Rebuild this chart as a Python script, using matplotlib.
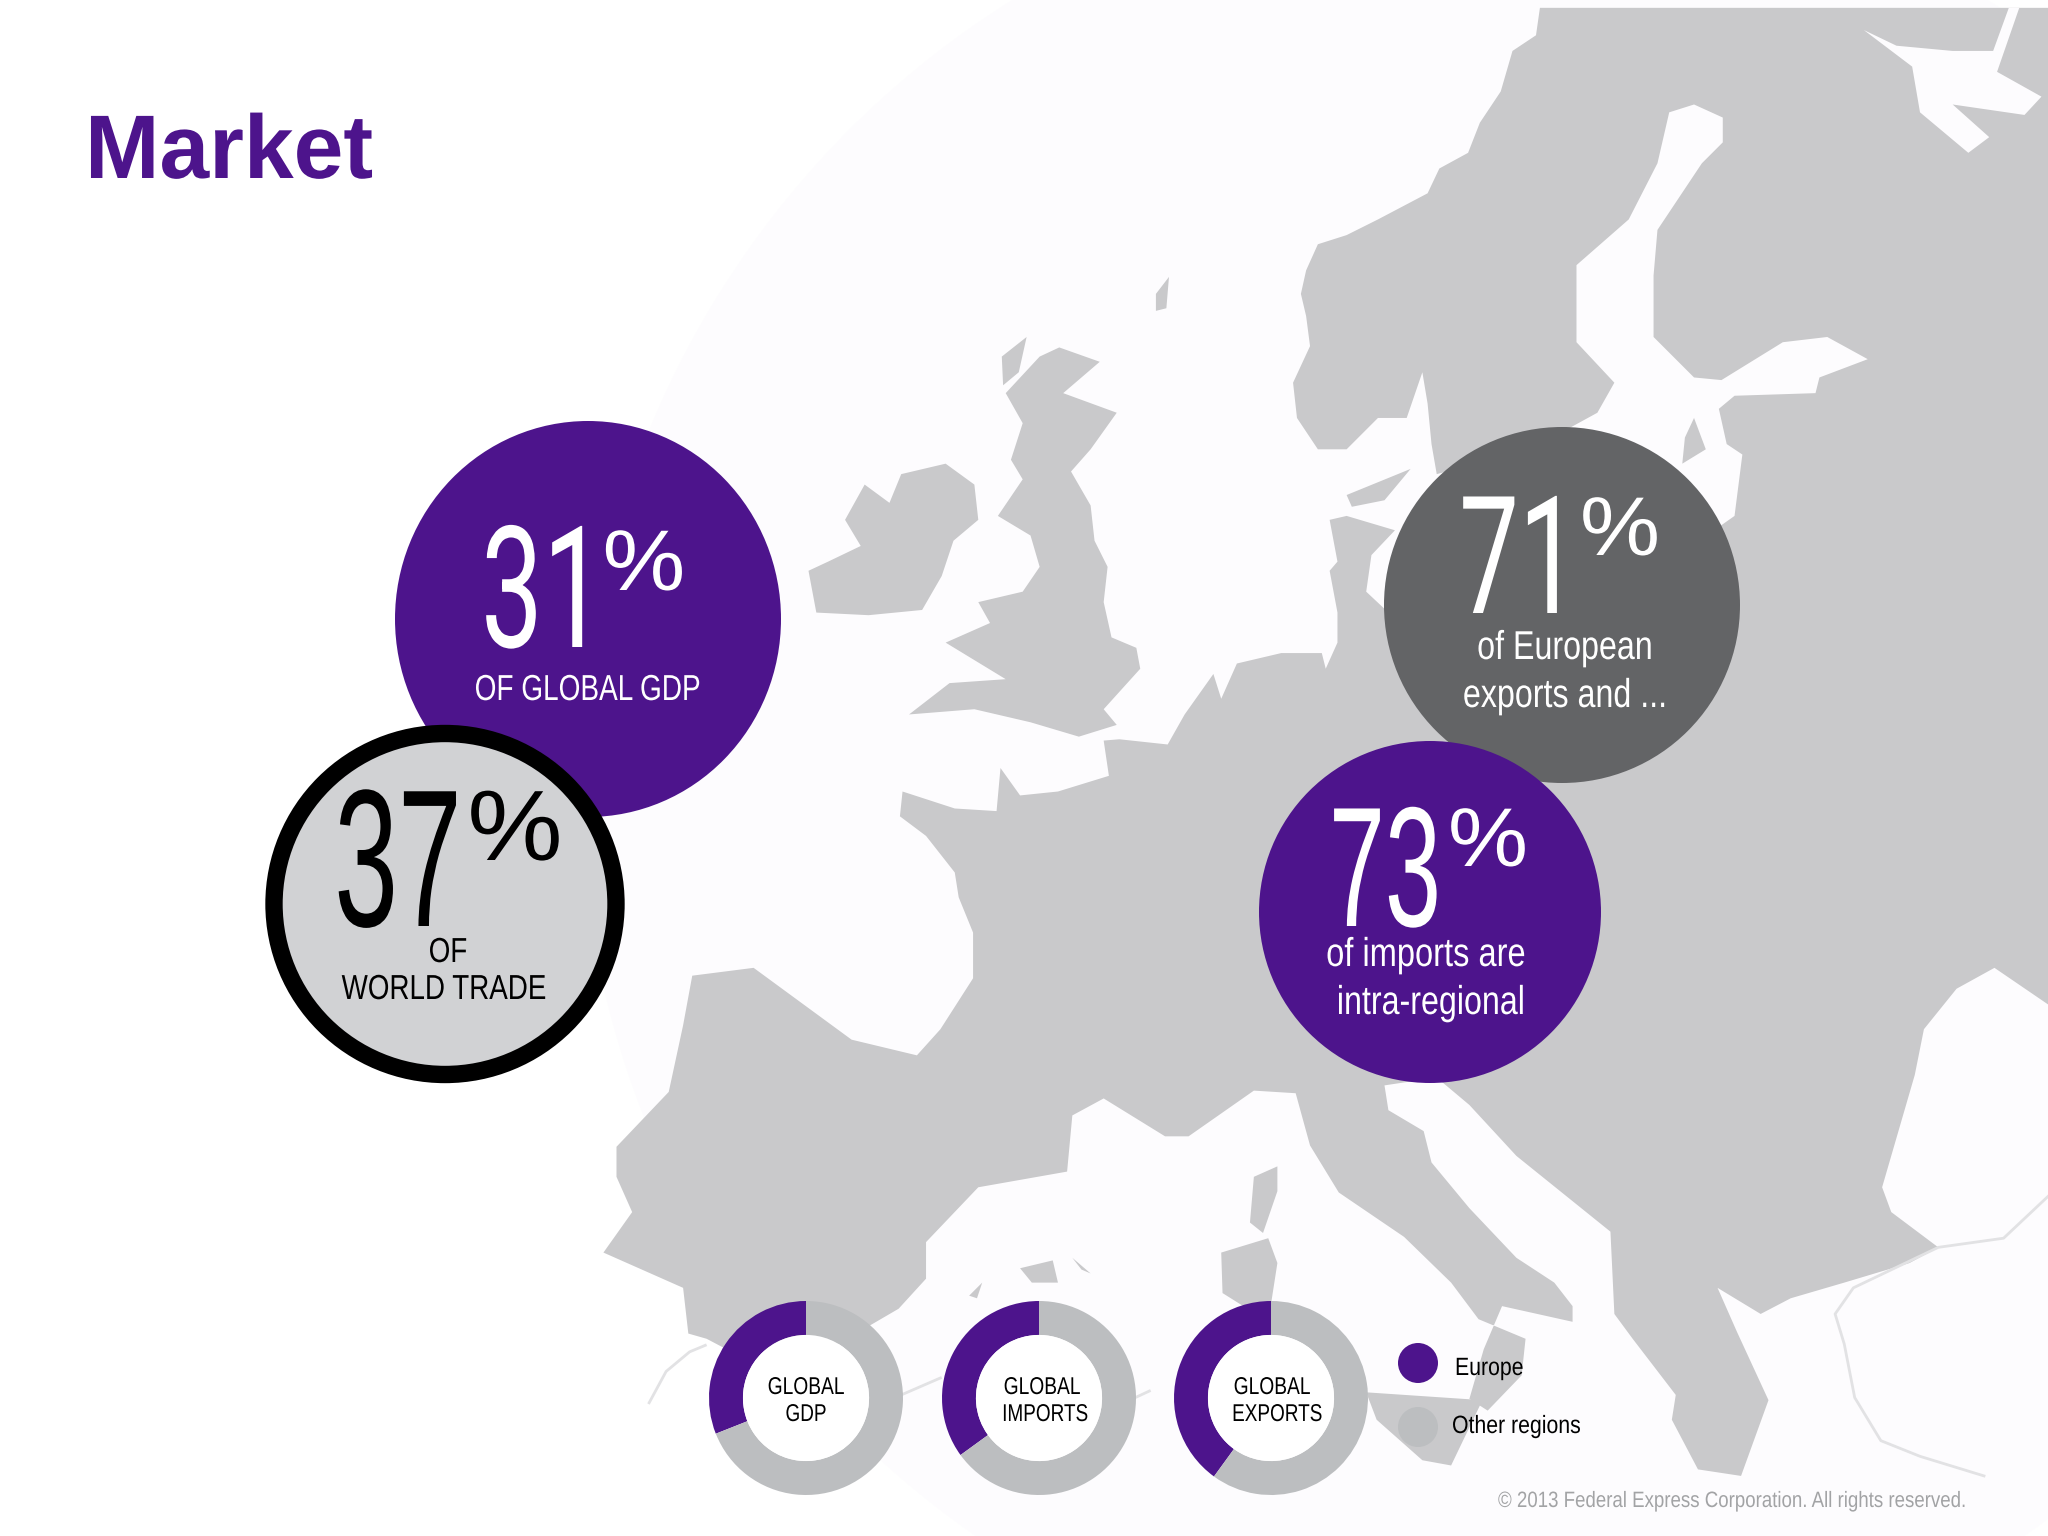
import numpy as np
import matplotlib
matplotlib.use('Agg')
import matplotlib.pyplot as plt
from matplotlib.patches import Ellipse, Polygon, Circle
from matplotlib.patheffects import AbstractPathEffect
from matplotlib.transforms import Affine2D, Bbox

W, H = 2048, 1536
S = 2048 / 1568  # map outlines were traced on a 1568 wide copy

PURPLE = '#4d148c'
GREY = '#636466'
LIGHT = '#d1d2d4'
MAP = '#c9c9cb'
DONUT_GREY = '#bcbec0'
SEA = '#fdfcfe'

plt.rcParams['font.family'] = ['Liberation Sans', 'DejaVu Sans']

# Europe share of the global totals
donut_labels = [('GLOBAL', 'GDP'), ('GLOBAL', 'IMPORTS'), ('GLOBAL', 'EXPORTS')]
europe_share = [31, 35, 40]
other_share = [69, 65, 60]

mainland = [(1179,6),(1176,27),(1158,39),(1149,70),(1133,94),(1124,117),(1102,129),(1093,148),(1055,168),
    (1031,180),(1009,187),(1000,207),(996,225),(1000,242),(1003,265),(990,293),(993,320),(1009,344),(1031,344),(1055,320),
    (1077,320),(1089,285),(1093,309),(1096,340),(1100,363),(1170,345),(1223,316),(1236,293),(1207,262),(1207,203),
    (1247,168),(1269,125),(1278,86),(1297,80),(1319,90),(1319,109),(1303,125),(1269,176),(1266,211),(1266,258),
    (1297,289),(1318,291),(1365,262),(1399,258),(1430,275),(1393,289),(1390,301),(1328,303),(1316,313),(1322,340),
    (1334,348),(1328,395),(1250,450),(1100,480),(1062,468),(1046,453),(1050,425),(1068,406),(1031,395),(1018,398),
    (1024,430),(1018,437),(1024,469),(1024,492),(1015,512),(1012,500),(981,500),(947,508),(935,535),(929,516),
    (907,547),(894,570),(857,566),(845,567),(849,594),(810,606),(781,609),(766,588),(763,621),(731,619),(691,606),
    (689,625),(709,640),(731,668),(734,687),(745,714),(745,749),(720,788),(702,808),(652,796),(577,741),(530,747),
    (523,785),(512,836),(472,878),(472,901),(484,928),(462,959),(523,986),(527,1021),(541,1025),(560,1035),
    (640,1030),(688,1002),(709,979),(709,951),(749,909),(817,897),(821,854),(845,841),(892,870),(910,870),(960,835),
    (992,837),(1003,877),(1025,913),(1075,947),(1111,982),(1132,1010),(1168,1025),(1165,1053),(1139,1080),(1125,1071),
    (1136,1033),(1150,1000),(1204,1012),(1204,1000),(1190,982),(1161,963),(1125,925),(1096,890),(1090,866),(1063,850),
    (1060,831),(1100,825),(1125,846),(1161,885),(1233,943),(1236,1006),(1250,1025),(1283,1068),(1280,1087),(1300,1125),
    (1333,1130),(1354,1072),(1330,1020),(1315,986),(1348,1006),(1371,994),(1412,982),(1462,967),(1484,955),(1448,928),
    (1441,909),(1466,823),(1473,788),(1498,757),(1527,741),(1568,769),(1568,6)]
white_sea = [(1427,23),(1452,35),(1495,39),(1526,39),(1538,6),(1546,6),(1529,55),(1563,74),(1550,88),(1495,80),
    (1523,105),(1507,117),(1470,86),(1464,51)]
ireland = [(619,437),(625,469),(665,471),(706,467),(721,441),(730,414),(749,398),(746,371),(724,355),(690,363),
    (681,385),(662,371),(647,398),(659,418),(634,430)]
britain = [(811,266),(842,277),(814,301),(855,316),(835,344),(820,361),(835,387),(838,414),(848,434),(845,461),
    (851,488),(870,496),(873,512),(845,543),(855,555),(826,564),(789,553),(746,543),(696,547),(727,523),(770,520),
    (724,492),(758,477),(749,461),(783,453),(796,434),(789,410),(764,395),(783,367),(774,352),(783,324),(770,301),(796,273)]
islands = [
    [(1046,1066),(1135,1072),(1111,1122),(1089,1118),(1054,1087)],  # Sicily
    [(935,959),(971,948),(978,967),(971,1012),(936,990)],  # Sardinia
    [(960,901),(978,893),(978,912),(967,944),(957,936)],  # Corsica
    [(781,971),(806,965),(810,982),(790,982)],
    [(821,963),(835,975),(828,972)],
    [(742,992),(752,982),(748,994)],
    [(767,273),(786,258),(780,285),(768,295)],
    [(895,212),(893,236),(885,238),(885,225)],
    [(1297,320),(1306,344),(1288,355),(1290,335)],
    [(1031,379),(1080,359),(1060,383),(1035,388)],
]
coast_lines = [
    [(497,1074),(510,1050),(528,1035),(540,1030)],
    [(690,1068),(720,1055)],
    [(838,1060),(865,1072),(880,1065)],
    [(1568,916),(1534,948),(1484,955),(1419,986),(1405,1006),(1412,1029),(1420,1070),(1440,1103),(1470,1115),(1519,1130)],
]

# bubbles: centre x, centre y, half width, half height (reference pixels)
bubbles = [
    (588, 619, 193, 198, PURPLE),
    (1562, 605, 178, 178, GREY),
    (1430, 912, 171, 171, PURPLE),
]


class SqueezeX(AbstractPathEffect):
    """The reference text is stretched by hand, so narrow the glyphs around the text anchor."""

    def __init__(self, anchor, k):
        super().__init__()
        self.anchor = anchor
        self.k = k

    def draw_path(self, renderer, gc, tpath, affine, rgbFace=None):
        squeeze = Affine2D().translate(-self.anchor, 0).scale(self.k, 1).translate(self.anchor, 0)
        renderer.draw_path(gc, tpath, affine + squeeze, rgbFace)


fig = plt.figure(figsize=(W / 100, H / 100), dpi=100, facecolor='white')
ax = fig.add_axes([0, 0, 1, 1])
ax.set_xlim(0, W)
ax.set_ylim(H, 0)
ax.axis('off')

# very faint globe behind the map
ax.add_patch(Circle((1500, 780), 920, fc=SEA, ec='none', zorder=0))

ax.add_patch(Polygon(np.array(mainland) * S, fc=MAP, ec='none', zorder=1))
ax.add_patch(Polygon(np.array(white_sea) * S, fc=SEA, ec='none', zorder=1.1))
for shape in [ireland, britain] + islands:
    ax.add_patch(Polygon(np.array(shape) * S, fc=MAP, ec='none', zorder=1))
for line in coast_lines:
    pts = np.array(line) * S
    ax.plot(pts[:, 0], pts[:, 1], color='#e2e2e4', lw=2, zorder=1)

for cx, cy, rx, ry, col in bubbles:
    ax.add_patch(Ellipse((cx, cy), 2 * rx, 2 * ry, fc=col, ec='none', zorder=2))
# the black ring sits on top of the 31% bubble
ax.add_patch(Ellipse((445, 904), 342, 341, fc=LIGHT, ec='black', lw=12.5, zorder=3))


def label(x, y, s, size, k=1.0, color='white', ha='center', host=None, family=None):
    host = host or ax
    t = host.text(x, y, s, fontsize=size, color=color, ha=ha, va='baseline', zorder=5, transform=ax.transData)
    if family:
        t.set_family(family)
    t.set_path_effects([SqueezeX(x, k)])

    # report the narrowed box, not the natural one
    natural_extent = t.get_window_extent

    def narrowed_extent(renderer=None, dpi=None):
        bb = natural_extent(renderer, dpi)
        return Bbox.from_extents(x + (bb.x0 - x) * k, bb.y0, x + (bb.x1 - x) * k, bb.y1)

    t.get_window_extent = narrowed_extent
    return t


label(85, 178, 'Market', 65, k=0.99, color=PURPLE, ha='left').set_fontweight('bold')

# Liberation's 1 has a foot, the reference's has not
label(543, 647, '31', 122, k=0.65, family='Roboto')
label(644, 590, '%', 62, k=1.08)
label(588, 700, 'OF GLOBAL GDP', 26, k=0.775)

label(398, 926, '37', 141, k=0.585, color='black')
label(515, 860, '%', 72, k=1.07, color='black')
label(448, 962, 'OF', 25, k=0.8, color='black')
label(444, 999, 'WORLD TRADE', 25, k=0.8, color='black')

label(1519, 613, '71', 118, k=0.65, family='Roboto')
label(1620, 555, '%', 60, k=1.08)
label(1565, 659, 'of European', 29, k=0.8)
label(1565, 707, 'exports and ...', 29, k=0.8)

label(1385, 926, '73', 123, k=0.59)
label(1488, 866, '%', 60, k=1.08)
label(1426, 966, 'of imports are', 29, k=0.81)
label(1431, 1014, 'intra-regional', 29, k=0.8)

# donuts, Europe wedge runs counter clockwise from 12 o'clock
donut_x = [806, 1039, 1271]
label_x = [(806, 806), (1042, 1045), (1272, 1277)]
donut_y = 1398
donut_r = 97
for i, cx in enumerate(donut_x):
    d = fig.add_axes([(cx - donut_r) / W, 1 - (donut_y + donut_r) / H, 2 * donut_r / W, 2 * donut_r / H], zorder=2)
    d.pie([europe_share[i], other_share[i]], colors=[PURPLE, DONUT_GREY], startangle=90, counterclock=True,
          radius=1, wedgeprops=dict(width=0.35, linewidth=0))
    d.add_patch(Circle((0, 0), 0.65, fc='white', ec='none'))
    d.set_xlim(-1, 1)
    d.set_ylim(-1, 1)
    top, bottom = donut_labels[i]
    label(label_x[i][0], 1394, top, 17.5, k=0.79, color='black', host=d)
    label(label_x[i][1], 1421, bottom, 17.5, k=0.78, color='black', host=d)

# legend
ax.add_patch(Ellipse((1418, 1363), 40, 40, fc=PURPLE, ec='none', zorder=2))
ax.add_patch(Ellipse((1418, 1427), 40, 40, fc=DONUT_GREY, ec='none', zorder=2))
label(1455, 1375, 'Europe', 18, k=0.85, color='black', ha='left')
label(1452, 1433, 'Other regions', 18, k=0.85, color='black', ha='left')

label(1498, 1507, '© 2013 Federal Express Corporation. All rights reserved.', 16, k=0.84, color='#a2a3a5', ha='left')

fig.savefig('out.png', dpi=100, facecolor='white')
